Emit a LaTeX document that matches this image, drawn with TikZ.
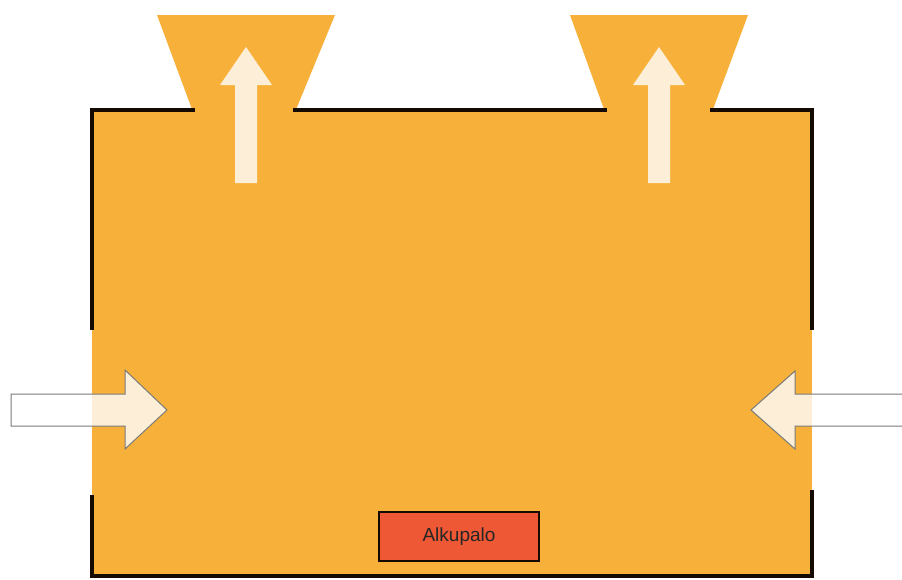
\documentclass[tikz,border=0pt]{standalone}
\usepackage{fontspec}
\setmainfont{Liberation Sans}
\definecolor{roomfill}{HTML}{F7B13B}
\definecolor{firebox}{HTML}{EE5835}
\definecolor{wallcol}{HTML}{150A02}
\definecolor{arrowedge}{HTML}{7A7A78}
\begin{document}
\begin{tikzpicture}[x=1pt,y=-1pt,
  wall/.style={draw=wallcol,line width=4.5pt,line cap=rect},
  flowarrow/.style={fill=white,fill opacity=0.8,draw=arrowedge,line width=1pt,draw opacity=1},
  exhaust/.style={fill=white,fill opacity=0.8,draw=none},
  firestyle/.style={draw=wallcol,line width=2pt,fill=firebox,minimum width=160pt,minimum height=49pt,inner sep=0pt,font=\fontsize{19}{22}\selectfont,text=black!85}]
\useasboundingbox (0,0) rectangle (902,579);
\clip (0,0) rectangle (902,579);
% room fill
\fill[roomfill] (92,110) rectangle (812,576);
% funnels
\fill[roomfill] (157,15) -- (335,15) -- (295,112) -- (193,112) -- cycle;
\fill[roomfill] (570,15) -- (748,15) -- (712,112) -- (605,112) -- cycle;
% walls
\draw[wall] (193,110) -- (92,110) -- (92,328);
\draw[wall] (295,110) -- (605,110);
\draw[wall] (712,110) -- (812,110) -- (812,328);
\draw[wall] (92,497) -- (92,576) -- (812,576) -- (812,492);
% exhaust arrows
\path[exhaust] (235,183) -- (235,85) -- (220,85) -- (246,47) -- (272,85) -- (257,85) -- (257,183) -- cycle;
\path[exhaust] (648,183) -- (648,85) -- (633,85) -- (659,47) -- (685,85) -- (670,85) -- (670,183) -- cycle;
% inflow arrows
\path[flowarrow] (11,394) -- (125,394) -- (125,370) -- (167,410) -- (125,449) -- (125,426) -- (11,426) -- cycle;
\path[flowarrow] (910,394) -- (795,394) -- (795,371) -- (751,410) -- (795,449) -- (795,426) -- (910,426) -- cycle;
% ignition source
\node[firestyle] (alkupalo) at (459,536.5) {Alkupalo};
\end{tikzpicture}
\end{document}
